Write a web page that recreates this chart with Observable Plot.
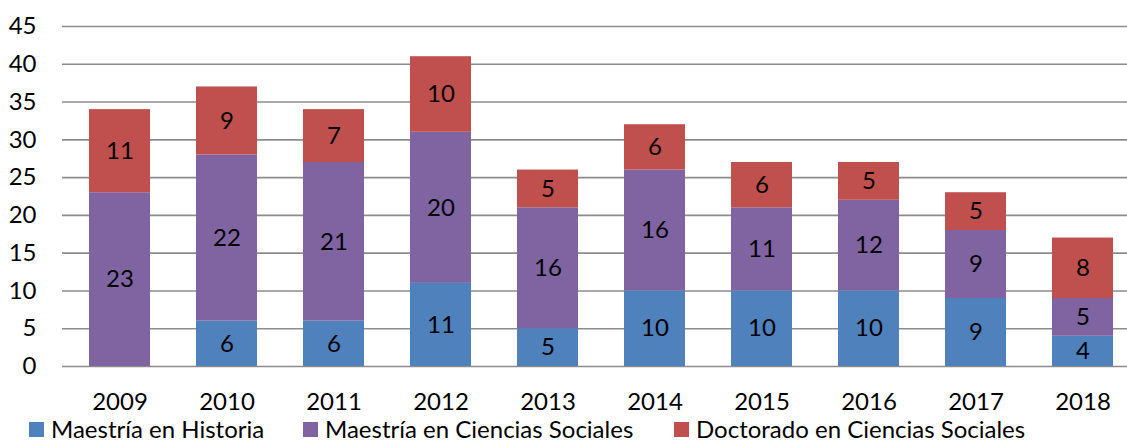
<!DOCTYPE html>
<html>
<head>
<meta charset="utf-8">
<script src="https://cdn.jsdelivr.net/npm/d3@7"></script>
<script src="https://cdn.jsdelivr.net/npm/@observablehq/plot@0.6"></script>
<style>
  html, body { margin: 0; padding: 0; background: #fff; }
  #wrap { position: relative; width: 1127px; height: 444px; overflow: hidden; font-family: Lato, "Open Sans", sans-serif; }
  #legend { position: relative; height: 30px; font-size: 24px; color: #000; }
  .item { position: absolute; top: 1px; display: flex; align-items: center; height: 28px; line-height: 28px; white-space: nowrap; }
  .sw { width: 15px; height: 15px; margin-right: 7px; }
</style>
</head>
<body>
<div id="wrap"></div>
<script>
const years = ["2009","2010","2011","2012","2013","2014","2015","2016","2017","2018"];
const seriesNames = ["Maestría en Historia", "Maestría en Ciencias Sociales", "Doctorado en Ciencias Sociales"];
const historia = [0, 6, 6, 11, 5, 10, 10, 10, 9, 4];
const cienciasSociales = [23, 22, 21, 20, 16, 16, 11, 12, 9, 5];
const doctorado = [11, 9, 7, 10, 5, 6, 6, 5, 5, 8];
const colors = ["#4f81bd", "#8064a2", "#c0504d"];
const yTicks = [0, 5, 10, 15, 20, 25, 30, 35, 40, 45];

const values = [historia, cienciasSociales, doctorado];
const data = [];
seriesNames.forEach((s, i) => years.forEach((y, j) => data.push({year: y, series: s, value: values[i][j]})));

const W = 1127, H = 414;
const FS = 24;
const chart = Plot.plot({
  width: W,
  height: H,
  marginLeft: 62,
  marginRight: 0,
  marginTop: 26,
  marginBottom: H - 366,
  style: {fontFamily: "Lato, 'Open Sans', sans-serif", fontSize: FS + "px", color: "#000", background: "#fff"},
  x: {domain: years, range: [62, 1140], paddingInner: 0.43, paddingOuter: 0.215, label: null},
  y: {domain: [0, 45], label: null},
  color: {domain: seriesNames, range: colors},
  marks: [
    Plot.gridY(yTicks, {stroke: "#8c8c8c", strokeOpacity: 1, strokeWidth: 1.6}),
    Plot.ruleX([0], {x: () => null, frameAnchor: "left", stroke: "#8c8c8c", strokeWidth: 1.6, y1: 0, y2: 45}),
    Plot.barY(data, Plot.stackY({x: "year", y: "value", z: "series", fill: "series"})),
    Plot.text(data, Plot.stackY({x: "year", y: "value", z: "series", text: d => d.value > 0 ? String(d.value) : "", fill: "#000", fontSize: FS})),
    Plot.axisY(yTicks, {tickSize: 0, tickPadding: 26, fontSize: FS, fill: "#000"}),
    Plot.axisX({tickSize: 0, tickPadding: 26, fontSize: FS, fill: "#000"})
  ]
});
const wrap = document.getElementById("wrap");
wrap.appendChild(chart);

const legend = document.createElement("div");
legend.id = "legend";
const lefts = [29, 303, 674];
seriesNames.forEach((s, i) => {
  const it = document.createElement("div");
  it.className = "item";
  it.style.left = lefts[i] + "px";
  const sw = document.createElement("span");
  sw.className = "sw";
  sw.style.background = colors[i];
  const t = document.createElement("span");
  t.textContent = s;
  it.appendChild(sw); it.appendChild(t);
  legend.appendChild(it);
});
wrap.appendChild(legend);
</script>
</body>
</html>
